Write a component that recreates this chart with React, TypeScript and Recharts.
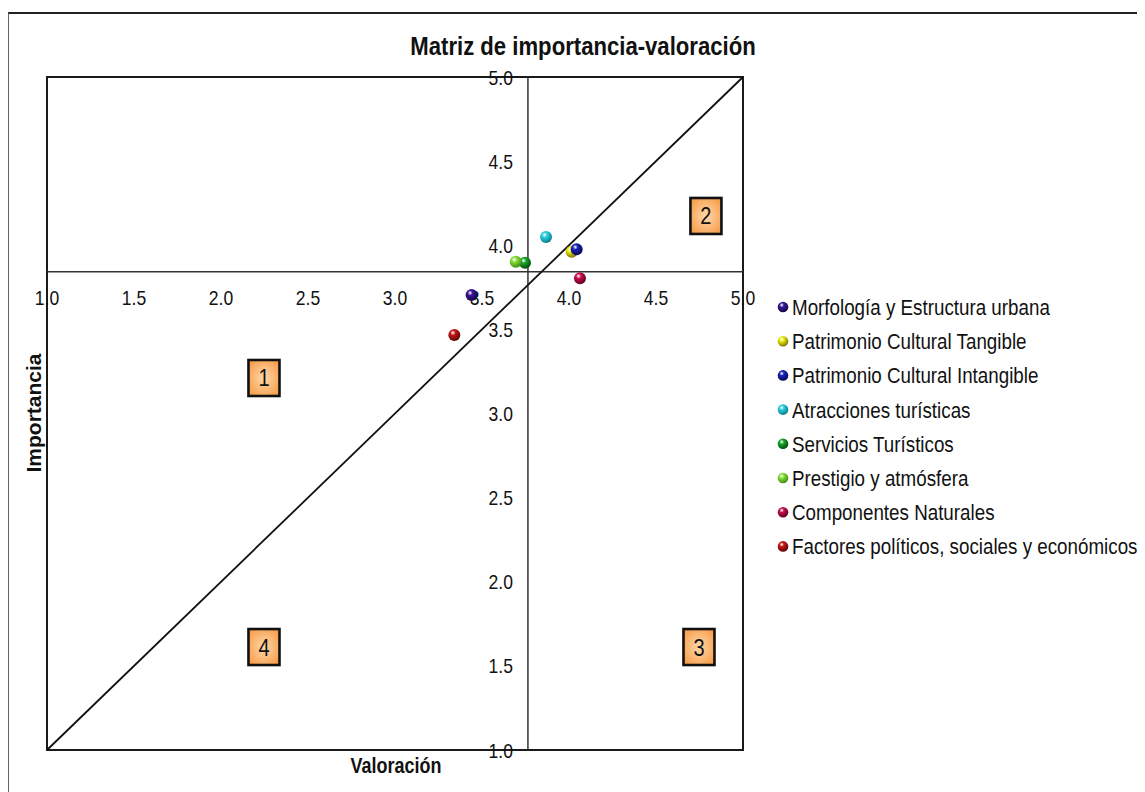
import { ScatterChart, Scatter, XAxis, YAxis, ReferenceLine, ReferenceArea } from 'recharts';

const TITLE = 'Matriz de importancia-valoración';
const X_TITLE = 'Valoración';
const Y_TITLE = 'Importancia';

const SERIES_NAMES = [
  'Morfología y Estructura urbana',
  'Patrimonio Cultural Tangible',
  'Patrimonio Cultural Intangible',
  'Atracciones turísticas',
  'Servicios Turísticos',
  'Prestigio y atmósfera',
  'Componentes Naturales',
  'Factores políticos, sociales y económicos',
];
const VALORACION = [3.44, 4.015, 4.044, 3.868, 3.747, 3.694, 4.063, 3.341];
const IMPORTANCIA = [3.704, 3.962, 3.976, 4.049, 3.896, 3.902, 3.804, 3.467];

const SERIES_COLORS = ['#3a1896', '#eeee10', '#1a22b8', '#2ccfdc', '#16a82a', '#86e03a', '#c8104e', '#c81818'];
const SERIES_DARK = ['#120640', '#7a7000', '#060a50', '#0a7a88', '#044a0c', '#3e8a10', '#5a0020', '#5a0404'];

const X_TICKS = [1.0, 1.5, 2.0, 2.5, 3.0, 3.5, 4.0, 4.5, 5.0];
const Y_TICKS = [1.0, 1.5, 2.0, 2.5, 3.0, 3.5, 4.0, 4.5, 5.0];

// axes cross at the mean values
const MEAN_VALORACION = 3.764;
const MEAN_IMPORTANCIA = 3.843;

const QUADRANT_LABELS = ['1', '2', '3', '4'];
const QUADRANT_X = [2.247, 4.787, 4.747, 2.247];
const QUADRANT_Y = [3.211, 4.174, 1.612, 1.612];

const FONT = '"Liberation Sans", Arial, sans-serif';
const SX = 0.835; // the original text is a bit narrow

const xTickData = X_TICKS.map(v => ({ x: v, y: MEAN_IMPORTANCIA }));
const yTickData = Y_TICKS.map(v => ({ x: MEAN_VALORACION, y: v }));
const quadrantData = QUADRANT_LABELS.map((label, i) => ({ x: QUADRANT_X[i], y: QUADRANT_Y[i], label }));

const NarrowText = ({ x, y, size, anchor = 'start', bold = false, children }: any) => (
  <text
    transform={`translate(${x},${y}) scale(${SX},1)`}
    textAnchor={anchor}
    fontSize={size}
    fontWeight={bold ? 'bold' : 'normal'}
    fill="#111"
    fontFamily={FONT}
  >
    {children}
  </text>
);

const XTickShape = (props: any) => (
  <NarrowText x={props.cx} y={props.cy + 33} size={21} anchor="middle">
    {props.payload.x.toFixed(1)}
  </NarrowText>
);

const YTickShape = (props: any) => (
  <NarrowText x={props.cx - 15} y={props.cy + 7.5} size={21} anchor="end">
    {props.payload.y.toFixed(1)}
  </NarrowText>
);

const QuadrantShape = (props: any) => {
  const id = `quad-${props.payload.label}`;
  return (
    <g>
      <defs>
        <radialGradient id={id} cx="50%" cy="50%" r="65%">
          <stop offset="0%" stopColor="#ffd8ab" />
          <stop offset="100%" stopColor="#f69a45" />
        </radialGradient>
      </defs>
      <rect x={props.cx - 15.5} y={props.cy - 18} width={31} height={36} fill={`url(#${id})`} stroke="#111" strokeWidth={2.6} />
      <NarrowText x={props.cx} y={props.cy + 8.5} size={24} anchor="middle">
        {props.payload.label}
      </NarrowText>
    </g>
  );
};

const makeSphere = (i: number) => (props: any) => (
  <g>
    <defs>
      <radialGradient id={`sphere-${i}`} cx="38%" cy="32%" r="70%">
        <stop offset="0%" stopColor="#ffffff" stopOpacity={0.85} />
        <stop offset="30%" stopColor={SERIES_COLORS[i]} />
        <stop offset="100%" stopColor={SERIES_DARK[i]} />
      </radialGradient>
    </defs>
    <circle cx={props.cx} cy={props.cy} r={6} fill={`url(#sphere-${i})`} />
  </g>
);

const LegendDot = ({ x, y, i }: { x: number; y: number; i: number }) => (
  <g>
    <defs>
      <radialGradient id={`legend-${i}`} cx="38%" cy="32%" r="70%">
        <stop offset="0%" stopColor="#ffffff" stopOpacity={0.8} />
        <stop offset="30%" stopColor={SERIES_COLORS[i]} />
        <stop offset="100%" stopColor={SERIES_DARK[i]} />
      </radialGradient>
    </defs>
    <circle cx={x} cy={y} r={5.3} fill={`url(#legend-${i})`} />
  </g>
);

export default function App() {
  return (
    <div style={{ position: 'relative', width: 1137, height: 784, fontFamily: FONT }}>
      <div
        style={{
          position: 'absolute', left: 0, top: 4, width: 1137, height: 780,
          borderTop: '2px solid #222', borderLeft: '1.5px solid #666', boxSizing: 'border-box',
        }}
      />
      <div style={{ position: 'absolute', left: 0, top: 0 }}>
        <ScatterChart width={1137} height={784} margin={{ top: 69, right: 402, bottom: 42, left: 39 }}>
          <XAxis type="number" dataKey="x" domain={[1, 5]} hide />
          <YAxis type="number" dataKey="y" domain={[1, 5]} hide />
          <ReferenceArea x1={1} x2={5} y1={1} y2={5} fill="none" stroke="#1a1a1a" strokeWidth={2} />
          <ReferenceLine x={MEAN_VALORACION} stroke="#333" strokeWidth={1.5} />
          <ReferenceLine y={MEAN_IMPORTANCIA} stroke="#333" strokeWidth={1.5} />
          <ReferenceLine segment={[{ x: 1, y: 1 }, { x: 5, y: 5 }]} stroke="#111" strokeWidth={1.8} />
          <Scatter data={xTickData} shape={XTickShape} isAnimationActive={false} />
          <Scatter data={yTickData} shape={YTickShape} isAnimationActive={false} />
          <Scatter data={quadrantData} shape={QuadrantShape} isAnimationActive={false} />
          {SERIES_NAMES.map((name, i) => (
            <Scatter
              key={name}
              name={name}
              data={[{ x: VALORACION[i], y: IMPORTANCIA[i] }]}
              fill={SERIES_COLORS[i]}
              shape={makeSphere(i)}
              isAnimationActive={false}
            />
          ))}
        </ScatterChart>
      </div>
      <svg width={1137} height={784} style={{ position: 'absolute', left: 0, top: 0, pointerEvents: 'none' }}>
        <NarrowText x={575} y={47} size={26.5} anchor="middle" bold>
          {TITLE}
        </NarrowText>
        <NarrowText x={388} y={765} size={21.5} anchor="middle" bold>
          {X_TITLE}
        </NarrowText>
        <text
          x={0} y={0} transform="translate(33,405) rotate(-90)" textAnchor="middle"
          fontSize={21} fontWeight="bold" fill="#111" fontFamily={FONT}
        >
          {Y_TITLE}
        </text>
        {SERIES_NAMES.map((name, i) => {
          const cy = 299 + i * 34.2;
          return (
            <g key={name}>
              <LegendDot x={775} y={cy} i={i} />
              <NarrowText x={784} y={cy + 8} size={22.5}>
                {name}
              </NarrowText>
            </g>
          );
        })}
      </svg>
    </div>
  );
}
